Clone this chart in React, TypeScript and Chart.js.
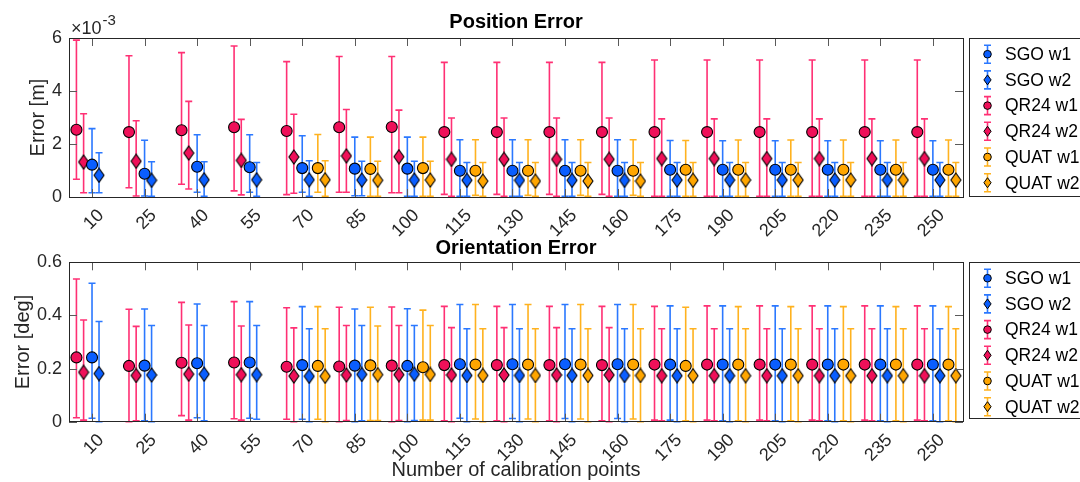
import React, { useEffect, useRef } from 'react';
import { Chart, registerables } from 'chart.js';

Chart.register(...registerables);

const FONT = "'Liberation Sans', Arial, Helvetica, sans-serif";
const AXIS_COLOR = '#262626';

// ---------------- data ----------------
const categories = [10, 25, 40, 55, 70, 85, 100, 115, 130, 145, 160, 175, 190, 205, 220, 235, 250];
const seriesLabels = ['SGO w1', 'SGO w2', 'QR24 w1', 'QR24 w2', 'QUAT w1', 'QUAT w2'];
const posTicks = [0, 2, 4, 6]; // x 10^-3 m
const oriTicks = [0, 0.2, 0.4, 0.6]; // deg

// Position error (units of 10^-3 m): mean, lower bound, upper bound
const posSgoW1 = [1.22, 0.88, 1.14, 1.12, 1.09, 1.07, 1.07, 0.99, 0.99, 0.99, 0.99, 1.03, 1.03, 1.03, 1.03, 1.03, 1.03];
const posSgoW1Lo = [0.16, 0.04, 0.18, 0.18, 0.18, 0.05, 0.03, 0.03, 0.03, 0.03, 0.03, 0.03, 0.03, 0.03, 0.03, 0.03, 0.03];
const posSgoW1Hi = [2.58, 2.14, 2.35, 2.35, 2.31, 2.26, 2.26, 2.16, 2.16, 2.16, 2.16, 2.13, 2.12, 2.12, 2.12, 2.12, 2.12];

const posSgoW2 = [0.82, 0.63, 0.65, 0.65, 0.65, 0.64, 0.64, 0.63, 0.63, 0.63, 0.63, 0.64, 0.64, 0.64, 0.64, 0.64, 0.64];
const posSgoW2Lo = [0.16, 0.03, 0.03, 0.03, 0.03, 0.05, 0.03, 0.03, 0.03, 0.03, 0.03, 0.03, 0.03, 0.03, 0.03, 0.03, 0.03];
const posSgoW2Hi = [1.67, 1.33, 1.33, 1.30, 1.37, 1.35, 1.35, 1.30, 1.30, 1.30, 1.30, 1.30, 1.30, 1.30, 1.30, 1.30, 1.30];

const posQrW1 = [2.54, 2.45, 2.52, 2.63, 2.49, 2.63, 2.64, 2.45, 2.45, 2.45, 2.45, 2.45, 2.45, 2.45, 2.45, 2.45, 2.45];
const posQrW1Lo = [0.67, 0.35, 0.48, 0.23, 0.09, 0.18, 0.16, 0.10, 0.10, 0.10, 0.10, 0.03, 0.03, 0.03, 0.03, 0.03, 0.03];
const posQrW1Hi = [5.92, 5.33, 5.45, 5.70, 5.11, 5.30, 5.30, 5.08, 5.08, 5.08, 5.08, 5.17, 5.17, 5.17, 5.17, 5.17, 5.17];

const posQrW2 = [1.32, 1.35, 1.66, 1.38, 1.51, 1.55, 1.52, 1.42, 1.42, 1.42, 1.42, 1.45, 1.45, 1.45, 1.45, 1.45, 1.45];
const posQrW2Lo = [0.16, 0.04, 0.30, 0.08, 0.14, 0.18, 0.16, 0.03, 0.03, 0.03, 0.03, 0.03, 0.03, 0.03, 0.03, 0.03, 0.03];
const posQrW2Hi = [3.14, 2.88, 3.61, 2.93, 3.12, 3.30, 3.28, 2.98, 2.98, 2.98, 2.98, 2.95, 2.95, 2.95, 2.95, 2.95, 2.95];

const posQuatW1 = [null, null, null, null, 1.09, 1.06, 1.09, 0.99, 0.99, 0.99, 0.99, 1.03, 1.03, 1.03, 1.03, 1.03, 1.03];
const posQuatW1Lo = [null, null, null, null, 0.18, 0.03, 0.03, 0.06, 0.06, 0.06, 0.06, 0.03, 0.03, 0.03, 0.03, 0.03, 0.03];
const posQuatW1Hi = [null, null, null, null, 2.36, 2.26, 2.26, 2.16, 2.16, 2.16, 2.16, 2.13, 2.15, 2.15, 2.15, 2.15, 2.15];

const posQuatW2 = [null, null, null, null, 0.65, 0.63, 0.64, 0.60, 0.60, 0.60, 0.60, 0.63, 0.64, 0.64, 0.64, 0.64, 0.64];
const posQuatW2Lo = [null, null, null, null, 0.03, 0.03, 0.03, 0.03, 0.03, 0.03, 0.03, 0.03, 0.03, 0.03, 0.03, 0.03, 0.03];
const posQuatW2Hi = [null, null, null, null, 1.37, 1.35, 1.35, 1.30, 1.30, 1.30, 1.30, 1.30, 1.30, 1.30, 1.30, 1.30, 1.30];

// Orientation error (deg): mean, lower bound, upper bound
const oriSgoW1 = [0.242, 0.211, 0.220, 0.223, 0.213, 0.211, 0.210, 0.216, 0.216, 0.216, 0.216, 0.215, 0.215, 0.215, 0.215, 0.215, 0.215];
const oriSgoW1Lo = [0.013, 0.003, 0.015, 0.013, 0.009, 0.0, 0.0, 0.013, 0.012, 0.012, 0.012, 0.006, 0.003, 0.003, 0.003, 0.003, 0.003];
const oriSgoW1Hi = [0.521, 0.424, 0.443, 0.452, 0.433, 0.424, 0.425, 0.441, 0.441, 0.441, 0.441, 0.436, 0.436, 0.436, 0.436, 0.436, 0.436];

const oriSgoW2 = [0.181, 0.176, 0.179, 0.177, 0.171, 0.178, 0.179, 0.174, 0.174, 0.174, 0.174, 0.173, 0.173, 0.173, 0.173, 0.173, 0.173];
const oriSgoW2Lo = [0.0, 0.0, 0.003, 0.009, 0.0, 0.003, 0.004, 0.0, 0.0, 0.0, 0.0, 0.0, 0.0, 0.0, 0.0, 0.0, 0.0];
const oriSgoW2Hi = [0.377, 0.362, 0.362, 0.362, 0.350, 0.362, 0.362, 0.350, 0.350, 0.350, 0.350, 0.350, 0.350, 0.350, 0.350, 0.350, 0.350];

const oriQrW1 = [0.242, 0.210, 0.222, 0.223, 0.207, 0.208, 0.211, 0.213, 0.213, 0.213, 0.213, 0.215, 0.215, 0.215, 0.215, 0.215, 0.215];
const oriQrW1Lo = [0.015, 0.0, 0.023, 0.011, 0.009, 0.0, 0.0, 0.003, 0.003, 0.003, 0.003, 0.006, 0.006, 0.006, 0.006, 0.006, 0.006];
const oriQrW1Hi = [0.537, 0.423, 0.449, 0.452, 0.429, 0.431, 0.432, 0.434, 0.434, 0.434, 0.434, 0.434, 0.436, 0.436, 0.436, 0.436, 0.436];

const oriQrW2 = [0.186, 0.174, 0.179, 0.177, 0.172, 0.176, 0.177, 0.176, 0.176, 0.176, 0.176, 0.173, 0.173, 0.173, 0.173, 0.173, 0.173];
const oriQrW2Lo = [0.006, 0.003, 0.006, 0.006, 0.0, 0.004, 0.004, 0.0, 0.0, 0.0, 0.0, 0.003, 0.003, 0.003, 0.003, 0.003, 0.003];
const oriQrW2Hi = [0.383, 0.359, 0.364, 0.360, 0.353, 0.362, 0.362, 0.354, 0.354, 0.354, 0.354, 0.350, 0.350, 0.350, 0.350, 0.350, 0.350];

const oriQuatW1 = [null, null, null, null, 0.210, 0.212, 0.205, 0.215, 0.215, 0.215, 0.215, 0.210, 0.215, 0.215, 0.215, 0.215, 0.215];
const oriQuatW1Lo = [null, null, null, null, 0.009, 0.004, 0.006, 0.010, 0.010, 0.010, 0.010, 0.003, 0.003, 0.003, 0.003, 0.003, 0.003];
const oriQuatW1Hi = [null, null, null, null, 0.433, 0.431, 0.420, 0.441, 0.441, 0.441, 0.441, 0.431, 0.433, 0.433, 0.433, 0.433, 0.433];

const oriQuatW2 = [null, null, null, null, 0.171, 0.177, 0.178, 0.174, 0.174, 0.174, 0.174, 0.173, 0.173, 0.173, 0.173, 0.173, 0.173];
const oriQuatW2Lo = [null, null, null, null, 0.0, 0.004, 0.006, 0.0, 0.0, 0.0, 0.0, 0.0, 0.0, 0.0, 0.0, 0.0, 0.0];
const oriQuatW2Hi = [null, null, null, null, 0.350, 0.360, 0.362, 0.350, 0.350, 0.350, 0.350, 0.350, 0.350, 0.350, 0.350, 0.350, 0.350];

// ---------------- styles ----------------
const STYLES = [
  { face: '#0a5eff', bar: '#2b78ff', marker: 'circle', offset: 0 },
  { face: '#0a5eff', bar: '#2b78ff', marker: 'diamond', offset: 2.0 },
  { face: '#ef1059', bar: '#ff3074', marker: 'circle', offset: -4.45 },
  { face: '#ef1059', bar: '#ff3074', marker: 'diamond', offset: -2.4 },
  { face: '#ffa600', bar: '#ffb21f', marker: 'circle', offset: 4.45 },
  { face: '#ffa600', bar: '#ffb21f', marker: 'diamond', offset: 6.55 },
];

function makeDiamond(fill: string) {
  const c = document.createElement('canvas');
  c.width = 12;
  c.height = 16;
  const g = c.getContext('2d')!;
  g.beginPath();
  g.moveTo(6, 1);
  g.lineTo(11, 8);
  g.lineTo(6, 15);
  g.lineTo(1, 8);
  g.closePath();
  g.fillStyle = fill;
  g.fill();
  g.strokeStyle = '#000';
  g.lineWidth = 1.1;
  g.stroke();
  return c;
}

function buildDatasets(means: any[][], los: any[][], his: any[][]) {
  return STYLES.map((s, i) => {
    const data: any[] = [];
    categories.forEach((c, j) => {
      const m = means[i][j];
      if (m === null || m === undefined) return;
      data.push({ x: c + s.offset, y: m, lo: los[i][j], hi: his[i][j] });
    });
    return {
      label: seriesLabels[i],
      data,
      showLine: false,
      barColor: s.bar,
      pointStyle: s.marker === 'circle' ? 'circle' : makeDiamond(s.face),
      pointRadius: 5.5,
      pointHoverRadius: 5.5,
      pointBackgroundColor: s.face,
      pointBorderColor: '#000',
      pointBorderWidth: 1.1,
    };
  });
}

const errorBarPlugin = {
  id: 'errorBars',
  beforeDatasetsDraw(chart: any) {
    const ctx = chart.ctx;
    const ys = chart.scales.y;
    chart.data.datasets.forEach((ds: any, i: number) => {
      const meta = chart.getDatasetMeta(i);
      ctx.save();
      ctx.strokeStyle = ds.barColor;
      ctx.lineWidth = 1.6;
      meta.data.forEach((pt: any, k: number) => {
        const raw = ds.data[k];
        const x = pt.x;
        const yl = ys.getPixelForValue(raw.lo);
        const yh = ys.getPixelForValue(raw.hi);
        ctx.beginPath();
        ctx.moveTo(x, yl);
        ctx.lineTo(x, yh);
        ctx.moveTo(x - 3.5, yl);
        ctx.lineTo(x + 3.5, yl);
        ctx.moveTo(x - 3.5, yh);
        ctx.lineTo(x + 3.5, yh);
        ctx.stroke();
      });
      ctx.restore();
    });
  },
};

function makeFramePlugin(opts: { exponent: boolean; legendHeight: number }) {
  return {
    id: 'matlabFrame',
    afterDraw(chart: any) {
      const ctx = chart.ctx;
      const ca = chart.chartArea;
      const xs = chart.scales.x;
      const ys = chart.scales.y;
      ctx.save();
      // ticks (inward, all four sides)
      ctx.strokeStyle = '#5a5a5a';
      ctx.lineWidth = 1;
      const TL = 8;
      xs.ticks.forEach((t: any) => {
        const x = Math.round(xs.getPixelForValue(t.value)) + 0.5;
        ctx.beginPath();
        ctx.moveTo(x, ca.bottom);
        ctx.lineTo(x, ca.bottom - TL);
        ctx.moveTo(x, ca.top);
        ctx.lineTo(x, ca.top + TL);
        ctx.stroke();
      });
      ys.ticks.forEach((t: any) => {
        const y = Math.round(ys.getPixelForValue(t.value)) + 0.5;
        ctx.beginPath();
        ctx.moveTo(ca.left, y);
        ctx.lineTo(ca.left + TL, y);
        ctx.moveTo(ca.right, y);
        ctx.lineTo(ca.right - TL, y);
        ctx.stroke();
      });
      // box
      ctx.strokeStyle = AXIS_COLOR;
      ctx.strokeRect(Math.round(ca.left) + 0.5, Math.round(ca.top) + 0.5, Math.round(ca.right - ca.left), Math.round(ca.bottom - ca.top));

      // exponent label
      if (opts.exponent) {
        ctx.fillStyle = AXIS_COLOR;
        ctx.textBaseline = 'alphabetic';
        ctx.textAlign = 'left';
        ctx.font = `18px ${FONT}`;
        ctx.fillText('×10', ca.left + 2, ca.top - 4);
        const w = ctx.measureText('×10').width;
        ctx.font = `15px ${FONT}`;
        ctx.fillText('-3', ca.left + 3 + w, ca.top - 13);
      }

      // legend
      const lx = Math.round(ca.right) + 6.5;
      const ly = Math.round(ca.top) + 0.5;
      ctx.strokeStyle = AXIS_COLOR;
      ctx.lineWidth = 1;
      ctx.strokeRect(lx, ly, 200, opts.legendHeight);
      chart.data.datasets.forEach((ds: any, i: number) => {
        const s = STYLES[i];
        const cy = ly + 15.7 + 25.7 * i;
        const gx = lx + 18;
        ctx.strokeStyle = s.bar;
        ctx.lineWidth = 1.6;
        ctx.beginPath();
        ctx.moveTo(gx, cy - 9);
        ctx.lineTo(gx, cy + 9);
        ctx.moveTo(gx - 3.5, cy - 9);
        ctx.lineTo(gx + 3.5, cy - 9);
        ctx.moveTo(gx - 3.5, cy + 9);
        ctx.lineTo(gx + 3.5, cy + 9);
        ctx.stroke();
        ctx.fillStyle = s.face;
        ctx.strokeStyle = '#000';
        ctx.lineWidth = 1;
        ctx.beginPath();
        if (s.marker === 'circle') {
          ctx.arc(gx, cy, 3.8, 0, Math.PI * 2);
        } else {
          ctx.moveTo(gx, cy - 5);
          ctx.lineTo(gx + 3.6, cy);
          ctx.lineTo(gx, cy + 5);
          ctx.lineTo(gx - 3.6, cy);
          ctx.closePath();
        }
        ctx.fill();
        ctx.stroke();
        ctx.fillStyle = '#000';
        ctx.font = `17.5px ${FONT}`;
        ctx.textAlign = 'left';
        ctx.textBaseline = 'middle';
        ctx.fillText(ds.label, lx + 35.5, cy + 1);
      });
      ctx.restore();
    },
  };
}

function makeConfig(p: {
  title: string;
  titlePadTop: number;
  titlePadBottom: number;
  yTitle: string;
  yTitlePad: number;
  yMax: number;
  yTicks: number[];
  yFmt: (v: number) => string;
  xHeight: number;
  bottomPad: number;
  xTitle: string | null;
  datasets: any[];
  exponent: boolean;
  legendHeight: number;
}): any {
  return {
    type: 'scatter',
    data: { datasets: p.datasets },
    options: {
      animation: false,
      responsive: false,
      maintainAspectRatio: false,
      events: [],
      layout: { padding: { left: 0, right: 117, top: 0, bottom: p.bottomPad } },
      plugins: {
        legend: { display: false },
        tooltip: { enabled: false },
        title: {
          display: true,
          text: p.title,
          fullSize: false,
          color: '#000',
          font: { family: FONT, size: 20, weight: 'bold', lineHeight: 1.2 },
          padding: { top: p.titlePadTop, bottom: p.titlePadBottom },
        },
      },
      scales: {
        x: {
          type: 'linear',
          min: 3.43,
          max: 258.6,
          afterBuildTicks: (s: any) => {
            s.ticks = categories.map((v) => ({ value: v }));
          },
          afterFit: (s: any) => {
            s.height = p.xHeight;
          },
          grid: { display: false, drawTicks: false },
          border: { display: false },
          ticks: {
            autoSkip: false,
            minRotation: 45,
            maxRotation: 45,
            labelOffset: 9,
            padding: 8,
            color: AXIS_COLOR,
            font: { family: FONT, size: 18 },
            callback: (v: any) => String(v),
          },
          title: p.xTitle
            ? {
                display: true,
                text: p.xTitle,
                color: AXIS_COLOR,
                font: { family: FONT, size: 20, lineHeight: 1.2 },
                padding: { top: 0, bottom: 0 },
              }
            : { display: false },
        },
        y: {
          type: 'linear',
          min: 0,
          max: p.yMax,
          afterBuildTicks: (s: any) => {
            s.ticks = p.yTicks.map((v) => ({ value: v }));
          },
          afterFit: (s: any) => {
            s.width = 69;
          },
          grid: { display: false, drawTicks: false },
          border: { display: false },
          ticks: {
            padding: 7,
            color: AXIS_COLOR,
            font: { family: FONT, size: 18 },
            callback: (v: any) => p.yFmt(v),
          },
          title: {
            display: true,
            text: p.yTitle,
            color: AXIS_COLOR,
            font: { family: FONT, size: 20, lineHeight: 1.2 },
            padding: { top: p.yTitlePad, bottom: 0 },
          },
        },
      },
    },
    plugins: [errorBarPlugin, makeFramePlugin({ exponent: p.exponent, legendHeight: p.legendHeight })],
  };
}

export default function App() {
  const topRef = useRef<HTMLCanvasElement>(null);
  const botRef = useRef<HTMLCanvasElement>(null);

  useEffect(() => {
    Chart.defaults.font.family = FONT;
    const posDatasets = buildDatasets(
      [posSgoW1, posSgoW2, posQrW1, posQrW2, posQuatW1, posQuatW2],
      [posSgoW1Lo, posSgoW2Lo, posQrW1Lo, posQrW2Lo, posQuatW1Lo, posQuatW2Lo],
      [posSgoW1Hi, posSgoW2Hi, posQrW1Hi, posQrW2Hi, posQuatW1Hi, posQuatW2Hi]
    );
    const oriDatasets = buildDatasets(
      [oriSgoW1, oriSgoW2, oriQrW1, oriQrW2, oriQuatW1, oriQuatW2],
      [oriSgoW1Lo, oriSgoW2Lo, oriQrW1Lo, oriQrW2Lo, oriQuatW1Lo, oriQuatW2Lo],
      [oriSgoW1Hi, oriSgoW2Hi, oriQrW1Hi, oriQrW2Hi, oriQuatW1Hi, oriQuatW2Hi]
    );
    const top = new Chart(
      topRef.current!,
      makeConfig({
        title: 'Position Error',
        titlePadTop: 10.5,
        titlePadBottom: 3.5,
        yTitle: 'Error [m]',
        yTitlePad: 26.5,
        yMax: 6,
        yTicks: posTicks,
        yFmt: (v) => String(v),
        xHeight: 44,
        bottomPad: 241,
        xTitle: null,
        datasets: posDatasets,
        exponent: true,
        legendHeight: 158,
      })
    );
    const bot = new Chart(
      botRef.current!,
      makeConfig({
        title: 'Orientation Error',
        titlePadTop: 236.3,
        titlePadBottom: 2,
        yTitle: 'Error [deg]',
        yTitlePad: 11.3,
        yMax: 0.6,
        yTicks: oriTicks,
        yFmt: (v) => (v === 0 ? '0' : v.toFixed(1)),
        xHeight: 60.3,
        bottomPad: 0,
        xTitle: 'Number of calibration points',
        datasets: oriDatasets,
        exponent: false,
        legendHeight: 156,
      })
    );
    return () => {
      top.destroy();
      bot.destroy();
    };
  }, []);

  const cs: React.CSSProperties = { position: 'absolute', left: 0, top: 0, width: 1080, height: 482 };
  return (
    <div style={{ position: 'absolute', left: 0, top: 0, width: 1080, height: 482, background: '#fff' }}>
      <canvas ref={topRef} width={1080} height={482} style={cs} />
      <canvas ref={botRef} width={1080} height={482} style={cs} />
    </div>
  );
}
